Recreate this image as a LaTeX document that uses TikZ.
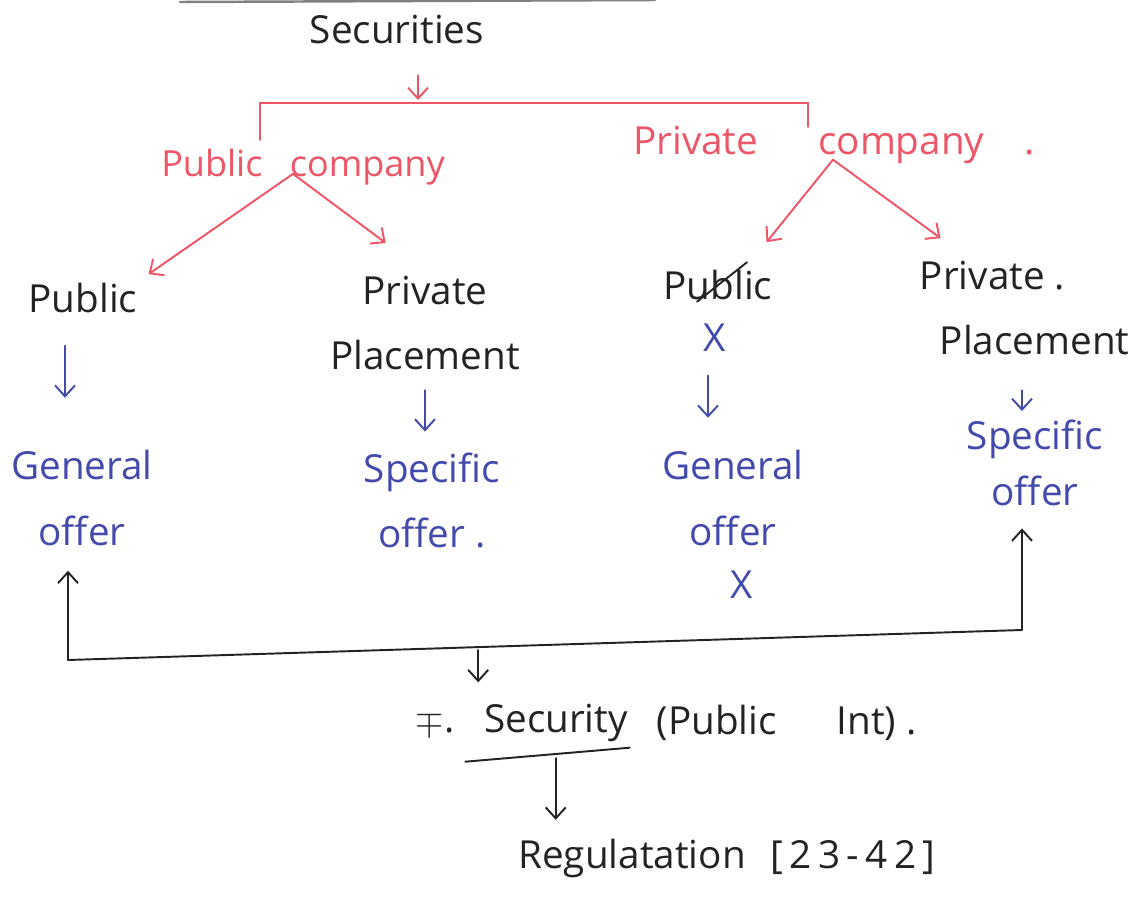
\documentclass[tikz,border=0pt]{standalone}
\usepackage{fontspec}
\setmainfont{Open Sans}
\usetikzlibrary{arrows.meta, positioning, calc}
\definecolor{redpen}{RGB}{236,86,102}
\definecolor{bluepen}{RGB}{68,74,172}
\definecolor{inkblack}{RGB}{35,35,35}
\newcommand\handfont{\fontsize{22}{37}\selectfont}
\tikzset{
  word/.style={inner sep=2pt, align=center, text=#1, font=\handfont},
  word/.default=inkblack,
  inkline/.style={draw=#1, line width=1.1pt, line cap=round},
  inkline/.default=inkblack,
  inkarr/.style={inkline=#1, -{Straight Barb[length=2.2mm, width=4mm]}},
  inkarr/.default=inkblack
}

\begin{document}
\begin{tikzpicture}[x=0.02cm, y=-0.02cm]
  \useasboundingbox (0,0) rectangle (1136,899);
  \draw[inkline=gray, line width=1.4pt] (180,2) -- (655,0);

  % top split
  \node[word] (sec) at (397,30) {Securities};
  \coordinate (brM) at (418,103);
  \coordinate (brL) at (260,103);
  \coordinate (brR) at (808,103);
  \draw[inkarr=redpen, shorten <=0.54cm, shorten >=0.06cm] ($(sec.south)+(21,0)$) -- (brM);
  \draw[inkline=redpen] ($(brL)+(0,37)$) -- (brL) -- (brR) -- ($(brR)+(0,24)$);

  \node[word=redpen, font={\fontsize{20.5}{37}\selectfont}] (pubco) at (303,167) {Public\hspace{0.55cm}company};
  \node[word=redpen] (pvtco) at (834,145) {Private\hspace{1.2cm}company\hspace{0.8cm}.};
  \coordinate (pubfork) at ($(pubco.south)+(-10,-15)$);
  \coordinate (pvtfork) at ($(pvtco.south)+(-1,-8)$);

  % second row
  \node[word] (pub1) at (83,298) {Public};
  \node[word] (pp1) at (425,323) {Private\\Placement};
  \node[word] (pub2) at (718,285) {Public};
  \node[word=bluepen] (xa) at (715,338) {X};
  \node[word, align=left, anchor=west] (pp2) at (916,308) {Private .\\\hspace*{0.4cm}Placement};
  \draw[inkline] ($(pub2.south)+(-21,-2)$) -- ($(pub2.north)+(29,-4)$);

  \draw[inkarr=redpen, shorten >=0.18cm] (pubfork) -- (pub1.north east);
  \draw[inkarr=redpen, shorten >=0.98cm] (pubfork) -- (pp1.north);
  \draw[inkarr=redpen, shorten >=0.62cm] (pvtfork) -- ($(pub2.north)!0.5!(pub2.north east)$);
  \draw[inkarr=redpen, shorten >=0.65cm] (pvtfork) -- ($(pp2.north west)!0.234!(pp2.north east)$);

  % third row
  \node[word=bluepen] (go1) at (82,498) {General\\offer};
  \node[word=bluepen] (so1) at (432,500) {Specific\\offer .};
  \node[word=bluepen] (go2) at (733,498) {General\\offer};
  \node[word=bluepen] (xb) at (742,585) {X};
  \node[word=bluepen, font={\fontsize{22}{32}\selectfont}] (so2) at (1035,463) {Specific\\offer};

  \draw[inkarr=bluepen, shorten <=0.58cm, shorten >=0.98cm] ($(pub1.south)+(-18,0)$) -- ($(pub1.south |- go1.north)+(-18,0)$);
  \draw[inkarr=bluepen, shorten <=0.33cm, shorten >=0.34cm] (pp1.south) -- (pp1.south |- so1.north);
  \draw[inkarr=bluepen, shorten <=0.4cm, shorten >=0.58cm] ($(xa.south)+(-7,0)$) -- ($(xa.south |- go2.north)+(-7,0)$);
  \draw[inkarr=bluepen, shorten <=0.63cm, shorten >=0.1cm] ($(so2.north |- pp2.south)+(-13,0)$) -- ($(so2.north)+(-13,0)$);

  % joining line
  \coordinate (jl) at (68,660);
  \coordinate (jr) at (1022,630);
  \coordinate (jm) at ($(jl)!0.43!(jr)$);
  \draw[inkline] (jl) -- (jr);
  \draw[inkarr, shorten >=0.43cm] (jl) -- (jl |- go1.south);
  \draw[inkarr, shorten >=0.37cm] (jr) -- (jr |- so2.south);

  % bottom
  \node[word] (secu) at (556,723) {Security};
  \node[word, left=0.44cm of secu] (sym) {$\mp$.};
  \node[word, right=0.42cm of secu] (pint) {(Public\hspace{1.2cm}Int) .};
  \node[word] (reg) at (727,858) {Regulatation\hspace{0.5cm}[\,2\,3\,-\,4\,2\,]};

  \draw[inkarr, shorten <=0.06cm, shorten >=0.36cm] (jm) -- (jm |- secu.north);
  \coordinate (ulL) at ($(secu.south west)+(-15,16)$);
  \coordinate (ulR) at ($(secu.south east)+(-2,2)$);
  \coordinate (ulm) at ($(ulL)!0.55!(ulR)$);
  \draw[inkline] (ulL) -- (ulR);
  \draw[inkarr, shorten <=0.08cm, shorten >=0.3cm] (ulm) -- (ulm |- reg.north);
\end{tikzpicture}
\end{document}
